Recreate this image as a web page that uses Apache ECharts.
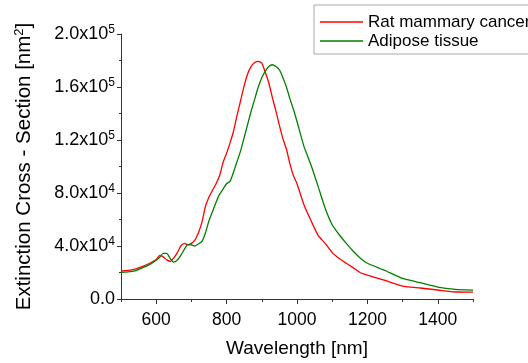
<!DOCTYPE html>
<html>
<head>
<meta charset="utf-8">
<script src="https://cdn.jsdelivr.net/npm/echarts@6/dist/echarts.min.js"></script>
<style>
html,body{margin:0;padding:0;background:#fff;}
#chart{width:528px;height:363px;}
</style>
</head>
<body>
<div id="chart"></div>
<script>
var wavelengths = [500,520,540,560,580,600,610,620,630,640,650,660,670,680,690,700,710,720,730,740,750,760,770,780,790,800,810,820,830,840,850,860,870,880,890,900,910,920,930,940,950,960,970,980,990,1000,1020,1040,1060,1080,1100,1120,1140,1160,1180,1200,1250,1300,1350,1400,1450,1500];
var ratCancer = [21300,21600,22600,24500,26800,29800,33000,31800,29500,28300,31000,35000,40000,42000,40800,42000,44500,50000,58000,70000,77000,82000,87000,93000,103000,110000,118000,127000,139000,150000,161000,170000,175500,178500,179300,178000,171000,163000,152000,142000,131000,121000,113000,102000,93000,87000,71000,59000,48000,42000,35000,30500,27000,23500,19800,18000,14000,9800,8300,6800,5300,5200];
var adiposeTissue = [20200,20400,21200,23500,25800,29300,31500,34500,34500,30500,27800,29500,33000,37500,41000,40800,40000,41500,43500,50000,59000,66000,73000,79000,83000,87000,89000,96000,104000,112000,122000,132000,142000,151000,160000,167000,172000,175500,176800,175500,173000,167000,160000,151000,143000,134000,115000,101000,85000,68500,56000,48500,42000,36000,30800,27000,21500,15500,12300,9000,7300,6700];
var seriesNames = ['Rat mammary cancer','Adipose tissue'];
var xMajorTicks = [600,800,1000,1200,1400];
var xMinorTicks = [500,700,900,1100,1300,1500];
var yTickLabels = {0:'0.0',40000:'4.0x10|4',80000:'8.0x10|4',120000:'1.2x10|5',160000:'1.6x10|5',200000:'2.0x10|5'};

function pairs(ys){ return wavelengths.map(function(w,i){return [w, ys[i]];}); }

var font = 'Liberation Sans, Arial, sans-serif';
var axisColor = '#333';
var chart = echarts.init(document.getElementById('chart'), null, {renderer:'canvas'});
chart.setOption({
  animation:false,
  backgroundColor:'#fff',
  textStyle:{fontFamily:font},
  grid:{left:121,right:55,top:34,bottom:62,containLabel:false},
  legend:{
    left:314, top:5,
    orient:'vertical',
    data:seriesNames,
    icon:'rect',
    itemWidth:43, itemHeight:1.5, itemGap:1,
    padding:[8,40,4,6],
    borderColor:'#aaa', borderWidth:1,
    backgroundColor:'#fff',
    textStyle:{fontFamily:font,fontSize:17,color:'#000',lineHeight:18,padding:[0,0,0,0]}
  },
  xAxis:[{
    type:'value', min:500, max:1500,
    name:'Wavelength [nm]', nameLocation:'middle', nameGap:40,
    nameTextStyle:{fontFamily:font,fontSize:19,color:'#000'},
    axisLine:{show:true,lineStyle:{color:axisColor,width:1}},
    axisTick:{show:true,length:5,customValues:xMajorTicks,lineStyle:{color:axisColor}},
    axisLabel:{customValues:xMajorTicks,fontFamily:font,fontSize:17.5,color:'#000',margin:12,
      formatter:function(v){return String(v);}},
    splitLine:{show:false}
  },{
    type:'value', min:500, max:1500, position:'bottom',
    axisLine:{show:false},
    axisTick:{show:true,length:3,customValues:xMinorTicks,lineStyle:{color:axisColor}},
    axisLabel:{show:false},
    splitLine:{show:false}
  }],
  yAxis:{
    type:'value', min:0, max:200000, interval:40000,
    name:'Extinction Cross - Section [nm{s|2}]', nameLocation:'middle', nameGap:86, nameRotate:90,
    nameTextStyle:{fontFamily:font,fontSize:20.5,color:'#000',rich:{s:{fontSize:13,fontFamily:font,verticalAlign:'top',padding:[0,0,9,0]}}},
    axisLine:{show:true,lineStyle:{color:axisColor,width:1}},
    axisTick:{show:true,length:4,lineStyle:{color:axisColor}},
    minorTick:{show:true,splitNumber:2,length:2,lineStyle:{color:axisColor}},
    axisLabel:{
      fontFamily:font,fontSize:18,color:'#000',margin:6,
      formatter:function(v){
        var t = yTickLabels[v];
        if(t===undefined) return '';
        var p = t.split('|');
        if(p.length===1) return '{b|'+p[0]+'}';
        return '{b|'+p[0]+'}{s|'+p[1]+'}';
      },
      rich:{
        b:{fontSize:18,fontFamily:font,color:'#000'},
        s:{fontSize:12,fontFamily:font,color:'#000',verticalAlign:'top',padding:[0,0,9,0]}
      }
    },
    splitLine:{show:false}
  },
  series:[{
    name:seriesNames[0], type:'line', data:pairs(ratCancer), symbol:'none', smooth:0.2,
    lineStyle:{color:'#ff0000',width:1.3}, itemStyle:{color:'#ff0000'}
  },{
    name:seriesNames[1], type:'line', data:pairs(adiposeTissue), symbol:'none', smooth:0.2,
    lineStyle:{color:'#008000',width:1.3}, itemStyle:{color:'#008000'}
  }]
});
</script>
</body>
</html>
